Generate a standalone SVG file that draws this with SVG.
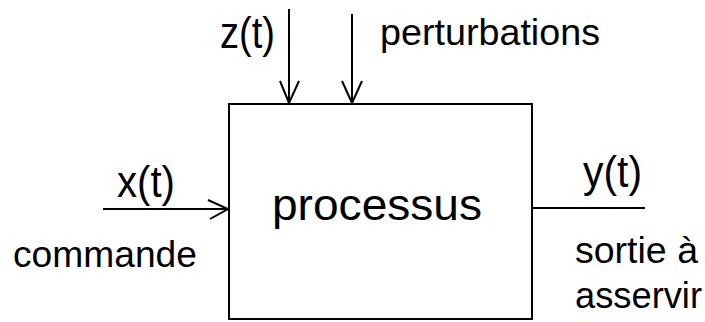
<svg xmlns="http://www.w3.org/2000/svg" width="705" height="322" viewBox="0 0 705 322">
  <style>
    .ln { stroke: #000; stroke-width: 2; fill: none; }
    .hd { stroke: #000; stroke-width: 2; fill: none; stroke-linejoin: miter; }
    .big { font-family: "Liberation Sans", Arial, sans-serif; font-size: 44px; fill: #000; }
    .med { font-family: "Liberation Sans", Arial, sans-serif; font-size: 36px; fill: #000; }
  </style>
  <rect width="705" height="322" fill="#fff"/>
  <g id="processus">
    <rect class="ln" x="229" y="104" width="303" height="215"/>
    <text class="big" x="272" y="220" textLength="210" lengthAdjust="spacingAndGlyphs">processus</text>
  </g>
  <g id="connectors">
    <line class="ln" x1="289" y1="9" x2="289" y2="103"/>
    <polyline class="hd" points="280,81 289,103 299,81"/>
    <line class="ln" x1="352" y1="14" x2="352" y2="103"/>
    <polyline class="hd" points="342,81 352,103 362,81"/>
    <line class="ln" x1="103" y1="209" x2="228" y2="209"/>
    <polyline class="hd" points="208,200 228,209 210,219"/>
    <line class="ln" x1="532" y1="208" x2="645" y2="208"/>
  </g>
  <g id="labels">
    <text class="big" x="220" y="48" textLength="55" lengthAdjust="spacingAndGlyphs">z(t)</text>
    <text class="med" x="380" y="45" textLength="220" lengthAdjust="spacingAndGlyphs">perturbations</text>
    <text class="big" x="117" y="197" textLength="58" lengthAdjust="spacingAndGlyphs">x(t)</text>
    <text class="med" x="13" y="267" textLength="184" lengthAdjust="spacingAndGlyphs">commande</text>
    <text class="big" x="583" y="187" textLength="59" lengthAdjust="spacingAndGlyphs">y(t)</text>
    <text class="med" x="575" y="263" textLength="123" lengthAdjust="spacingAndGlyphs">sortie à</text>
    <text class="med" x="575" y="308" textLength="127" lengthAdjust="spacingAndGlyphs">asservir</text>
  </g>
</svg>
